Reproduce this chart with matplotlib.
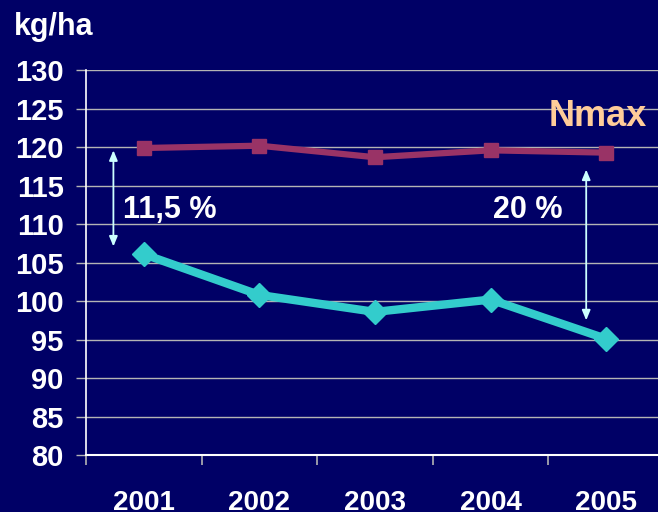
import matplotlib
matplotlib.use("Agg")
import matplotlib.pyplot as plt

years = ["2001", "2002", "2003", "2004", "2005"]
nmax = [119.9, 120.2, 118.7, 119.6, 119.3]
actual = [106.1, 100.8, 98.6, 100.2, 95.1]
yticks = [80, 85, 90, 95, 100, 105, 110, 115, 120, 125, 130]

BG = "#000066"
FONT = "Liberation Sans"

fig = plt.figure(figsize=(6.58, 5.12), dpi=100, facecolor=BG)
ax = fig.add_axes([86/658, 57/512, 578/658, 384.7/512])
ax.set_facecolor(BG)

x = list(range(len(years)))
ax.plot(x, nmax, color="#993366", lw=4.5, marker="s", ms=10, zorder=3)
ax.plot(x, actual, color="#33CCCC", lw=6, marker="D", ms=12, zorder=3)

ax.set_xlim(-0.5, 4.5)
ax.set_ylim(80, 130)
ax.set_yticks(yticks)
ax.set_yticklabels([str(v) for v in yticks], fontsize=21, fontweight="bold",
                   color="white", family=FONT)
ax.grid(axis="y", color="#B4B4B4", lw=1)
ax.set_axisbelow(True)

ax.set_xticks([i - 0.5 for i in range(len(years))])
ax.set_xticklabels([])
ax.set_xticks(x, minor=True)
ax.set_xticklabels(years, minor=True, fontsize=20, fontweight="bold",
                   color="white", family=FONT)
ax.tick_params(axis="x", which="major", length=7, color="#B4B4B4", width=1.2, direction="out")
ax.tick_params(axis="x", which="minor", length=0, pad=25)
ax.tick_params(axis="y", length=7, color="#B4B4B4", width=1, pad=9)

for s in ["top", "right"]:
    ax.spines[s].set_visible(False)
ax.spines["left"].set_color("white")
ax.spines["bottom"].set_color("white")
ax.spines["left"].set_linewidth(1.2)
ax.spines["bottom"].set_linewidth(1.5)

arrow_kw = dict(arrowstyle="<|-|>,head_length=0.6,head_width=0.25", color="#CCFFFF", lw=1.3,
                shrinkA=0, shrinkB=0)
ax.annotate("", xy=(-0.263, 119.6), xytext=(-0.263, 107.1), arrowprops=arrow_kw)
ax.annotate("", xy=(3.827, 117.1), xytext=(3.827, 97.5), arrowprops=arrow_kw)

ax.text(-0.18, 111.8, "11,5 %", fontsize=22, fontweight="bold", color="white",
        family=FONT, ha="left", va="center")
ax.text(3.02, 111.8, "20 %", fontsize=22, fontweight="bold", color="white",
        family=FONT, ha="left", va="center")
ax.text(3.5, 124.0, "Nmax", fontsize=26, fontweight="bold", color="#FFCC99",
        family=FONT, ha="left", va="center")

fig.text(14/658, 1 - 27/512, "kg/ha", fontsize=22, fontweight="bold", color="white",
         family=FONT, ha="left", va="center")

fig.savefig("out.png", dpi=100, facecolor=BG)
